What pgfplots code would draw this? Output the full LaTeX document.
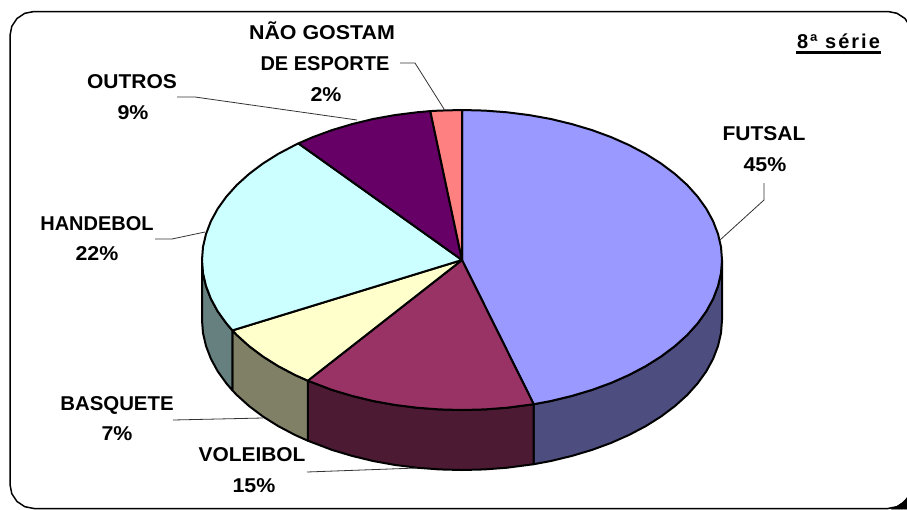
\documentclass[border=0pt]{standalone}
\usepackage{pgfplots}
\pgfplotsset{compat=1.18}
\usepackage{fontspec}
\setmainfont{Liberation Sans}
\newfontfamily\spaced[LetterSpace=10]{Liberation Sans}
\definecolor{cF}{HTML}{9999FF}\definecolor{cFs}{HTML}{4D4D80}
\definecolor{cV}{HTML}{993366}\definecolor{cVs}{HTML}{4D1A33}
\definecolor{cB}{HTML}{FFFFCC}\definecolor{cBs}{HTML}{808066}
\definecolor{cH}{HTML}{CCFFFF}\definecolor{cHs}{HTML}{668080}
\definecolor{cO}{HTML}{660066}
\definecolor{cN}{HTML}{FF8080}
\definecolor{lead}{HTML}{333333}
\tikzset{lab/.style={font=\bfseries\fontsize{20}{21}\selectfont, anchor=base, inner sep=0pt, text=black}}
\newcommand{\sx}[2]{\scalebox{#1}[1]{#2}}
\begin{document}
\begin{tikzpicture}
\begin{axis}[
  at={(0,0)}, anchor=south west,
  scale only axis, width=907pt, height=509pt,
  xmin=0, xmax=907, ymin=0, ymax=509, y dir=reverse,
  hide axis,
  every axis plot/.append style={mark=none, line join=round, forget plot},
]
% frame
\addplot[draw=black, line width=1.5pt] coordinates {
 (34,11.5) (888,11.5) (897,13.3) (905,18.5) (910,26.3) (912,35.5)
 (912,484.5) (910,493.7) (905,501.5) (897,506.7) (888,508.5)
 (34,508.5) (24.8,506.7) (17,501.5) (11.8,493.7) (10,484.5)
 (10,35.5) (11.8,26.3) (17,18.5) (24.8,13.3) (34,11.5)};
\addplot[draw=black, fill=black, line width=0.5pt] coordinates {
 (891,509) (897,506.5) (902,503) (907,498) (907,509) (891,509)};
% side faces
\addplot[draw=black, line width=2pt, fill=cFs] coordinates {
 (722,260) (721,273.1) (718,286) (713.1,298.8) (706.3,311.3) (697.6,323.4) (687.2,335) (675,346) (661.2,356.4) (645.8,366.1) (629.1,374.9) (611.1,382.9) (592,389.9) (571.9,395.9) (550.9,401) (533.7,404.2)
 (533.7,464.2) (550.9,461) (571.9,455.9) (592,449.9) (611.1,442.9) (629.1,434.9) (645.8,426.1) (661.2,416.4) (675,406) (687.2,395) (697.6,383.4) (706.3,371.3) (713.1,358.8) (718,346) (721,333.1) (722,320) (722,260)};
\addplot[draw=black, line width=2pt, fill=cVs] coordinates {
 (533.7,404.2) (507.1,407.7) (484.7,409.4) (462,410) (439.3,409.4) (416.9,407.7) (394.7,404.9) (373.1,401) (352.1,395.9) (332,389.9) (307.8,380.7)
 (307.8,440.7) (332,449.9) (352.1,455.9) (373.1,461) (394.7,464.9) (416.9,467.7) (439.3,469.4) (462,470) (484.7,469.4) (507.1,467.7) (533.7,464.2) (533.7,404.2)};
\addplot[draw=black, line width=2pt, fill=cBs] coordinates {
 (307.8,380.7) (294.9,374.9) (278.2,366.1) (262.8,356.4) (249,346) (236.8,335) (232.4,330.4)
 (232.4,390.4) (236.8,395) (249,406) (262.8,416.4) (278.2,426.1) (294.9,434.9) (307.8,440.7) (307.8,380.7)};
\addplot[draw=black, line width=2pt, fill=cHs] coordinates {
 (232.4,330.4) (226.4,323.4) (217.7,311.3) (210.9,298.8) (206,286) (203,273.1) (202,260)
 (202,320) (203,333.1) (206,346) (210.9,358.8) (217.7,371.3) (226.4,383.4) (232.4,390.4) (232.4,330.4)};
% top faces
\addplot[draw=black, line width=2pt, fill=cF] coordinates {
 (462,260) (462,110) (484.7,110.6) (507.1,112.3) (529.3,115.1) (550.9,119) (571.9,124.1) (592,130.1) (611.1,137.1) (629.1,145.1) (645.8,153.9) (661.2,163.6) (675,174) (687.2,185) (697.6,196.6) (706.3,208.7) (713.1,221.2) (718,234) (721,246.9) (722,260) (721,273.1) (718,286) (713.1,298.8) (706.3,311.3) (697.6,323.4) (687.2,335) (675,346) (661.2,356.4) (645.8,366.1) (629.1,374.9) (611.1,382.9) (592,389.9) (571.9,395.9) (550.9,401) (533.7,404.2) (462,260)};
\addplot[draw=black, line width=2pt, fill=cV] coordinates {
 (462,260) (533.7,404.2) (507.1,407.7) (484.7,409.4) (462,410) (439.3,409.4) (416.9,407.7) (394.7,404.9) (373.1,401) (352.1,395.9) (332,389.9) (307.8,380.7) (462,260)};
\addplot[draw=black, line width=2pt, fill=cB] coordinates {
 (462,260) (307.8,380.7) (294.9,374.9) (278.2,366.1) (262.8,356.4) (249,346) (236.8,335) (232.4,330.4) (462,260)};
\addplot[draw=black, line width=2pt, fill=cH] coordinates {
 (462,260) (232.4,330.4) (226.4,323.4) (217.7,311.3) (210.9,298.8) (206,286) (203,273.1) (202,260) (203,246.9) (206,234) (210.9,221.2) (217.7,208.7) (226.4,196.6) (236.8,185) (249,174) (262.8,163.6) (278.2,153.9) (294.9,145.1) (298.4,143.4) (462,260)};
\addplot[draw=black, line width=2pt, fill=cO] coordinates {
 (462,260) (298.4,143.4) (312.9,137.1) (332,130.1) (352.1,124.1) (373.1,119) (394.7,115.1) (416.9,112.3) (430.3,111.1) (462,260)};
\addplot[draw=black, line width=2pt, fill=cN] coordinates {
 (462,260) (430.3,111.1) (439.3,110.6) (462,110) (462,260)};
% leader lines
\addplot[draw=lead, line width=0.8pt] coordinates {(764,183) (764,200) (720,240)};
\addplot[draw=lead, line width=0.8pt] coordinates {(400,63) (415,63) (444,109)};
\addplot[draw=lead, line width=0.8pt] coordinates {(177,97) (195,97) (357,120)};
\addplot[draw=lead, line width=0.8pt] coordinates {(155,239) (172,239) (205,232)};
\addplot[draw=lead, line width=0.8pt] coordinates {(173,420) (263,418)};
\addplot[draw=lead, line width=0.8pt] coordinates {(307,472) (417,468)};
% underline of the series label
\addplot[draw=black, line width=2.6pt] coordinates {(796,52.5) (881,52.5)};
% labels
\node[lab] at (axis cs:322,39) {\sx{1.07}{NÃO GOSTAM}};
\node[lab] at (axis cs:325,70) {DE ESPORTE};
\node[lab] at (axis cs:326,101) {\sx{1.07}{2\%}};
\node[lab] at (axis cs:132,88) {\sx{1.05}{OUTROS}};
\node[lab] at (axis cs:133,119) {\sx{1.07}{9\%}};
\node[lab] at (axis cs:764,140) {\sx{1.05}{FUTSAL}};
\node[lab] at (axis cs:765,171) {\sx{1.07}{45\%}};
\node[lab] at (axis cs:97,230) {HANDEBOL};
\node[lab] at (axis cs:97,260) {\sx{1.07}{22\%}};
\node[lab] at (axis cs:117,410) {\sx{1.02}{BASQUETE}};
\node[lab] at (axis cs:117,440) {\sx{1.07}{7\%}};
\node[lab] at (axis cs:252,461) {\sx{1.045}{VOLEIBOL}};
\node[lab] at (axis cs:254,492) {\sx{1.07}{15\%}};
\node[lab, font=\spaced\bfseries\fontsize{20}{21}\selectfont] at (axis cs:838.5,48) {8ª série};
\end{axis}
\path[use as bounding box] (0,0) rectangle (907pt,509pt);
\end{tikzpicture}
\end{document}
